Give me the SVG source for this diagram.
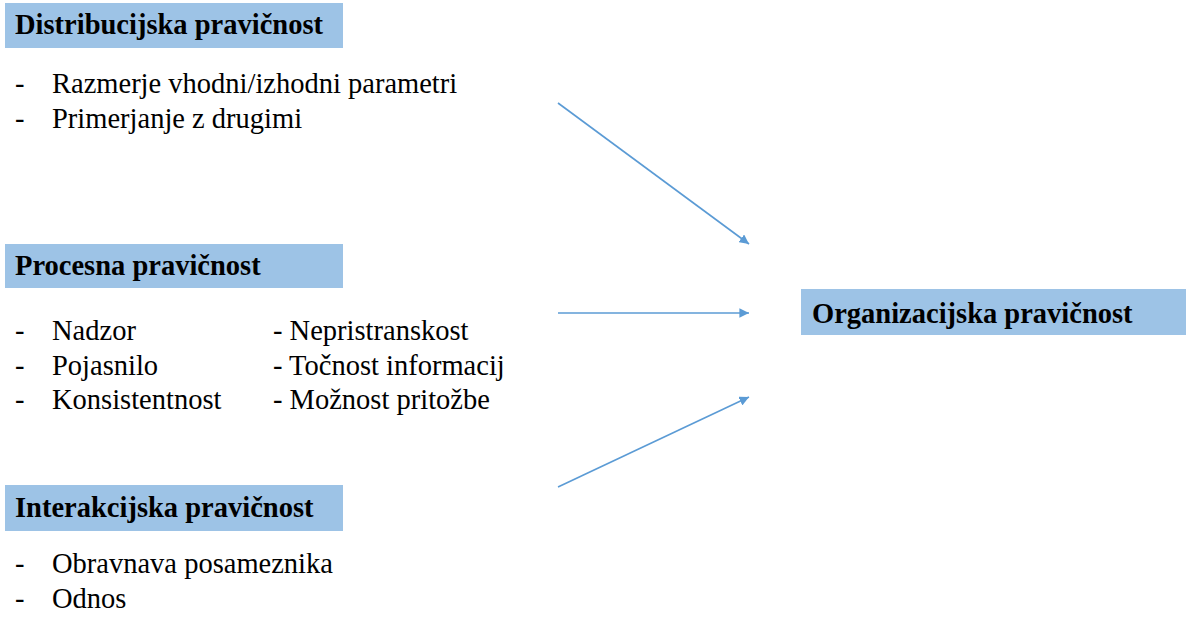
<svg xmlns="http://www.w3.org/2000/svg" width="1186" height="618" viewBox="0 0 1186 618">
<style>
.box{fill:#9dc3e6}
</style>
<defs>
<marker id="ah" viewBox="0 0 10 10" refX="10" refY="5" markerWidth="6" markerHeight="6" orient="auto" markerUnits="strokeWidth">
<path d="M0,0 L10,5 L0,10 z" fill="#5b9bd5"/>
</marker>
</defs>
<g id="distribucijska">
<text x="15" y="93" font-family="'Liberation Serif', Tinos, 'Times New Roman', serif" font-size="28.5">-</text>
<text x="52" y="93" font-family="'Liberation Serif', Tinos, 'Times New Roman', serif" font-size="28.5">Razmerje vhodni/izhodni parametri</text>
<text x="15" y="128" font-family="'Liberation Serif', Tinos, 'Times New Roman', serif" font-size="28.5">-</text>
<text x="52" y="128" font-family="'Liberation Serif', Tinos, 'Times New Roman', serif" font-size="28.5">Primerjanje z drugimi</text>
<rect class="box" x="5" y="3" width="338" height="45"/>
<text x="15" y="34" font-family="'Liberation Serif', Tinos, 'Times New Roman', serif" font-weight="bold" font-size="28.5">Distribucijska pravičnost</text>
</g>
<g id="procesna">
<text x="15" y="340" font-family="'Liberation Serif', Tinos, 'Times New Roman', serif" font-size="28.5">-</text>
<text x="52" y="340" font-family="'Liberation Serif', Tinos, 'Times New Roman', serif" font-size="28.5">Nadzor</text>
<text x="15" y="374.5" font-family="'Liberation Serif', Tinos, 'Times New Roman', serif" font-size="28.5">-</text>
<text x="52" y="374.5" font-family="'Liberation Serif', Tinos, 'Times New Roman', serif" font-size="28.5">Pojasnilo</text>
<text x="15" y="409" font-family="'Liberation Serif', Tinos, 'Times New Roman', serif" font-size="28.5">-</text>
<text x="52" y="409" font-family="'Liberation Serif', Tinos, 'Times New Roman', serif" font-size="28.5">Konsistentnost</text>
<text x="273" y="340" font-family="'Liberation Serif', Tinos, 'Times New Roman', serif" font-size="28.5">- Nepristranskost</text>
<text x="273" y="374.5" font-family="'Liberation Serif', Tinos, 'Times New Roman', serif" font-size="28.5">- Točnost informacij</text>
<text x="273" y="409" font-family="'Liberation Serif', Tinos, 'Times New Roman', serif" font-size="28.5">- Možnost pritožbe</text>
<rect class="box" x="5" y="244" width="338" height="44"/>
<text x="15" y="275" font-family="'Liberation Serif', Tinos, 'Times New Roman', serif" font-weight="bold" font-size="28.5">Procesna pravičnost</text>
</g>
<g id="interakcijska">
<text x="15" y="573" font-family="'Liberation Serif', Tinos, 'Times New Roman', serif" font-size="28.5">-</text>
<text x="52" y="573" font-family="'Liberation Serif', Tinos, 'Times New Roman', serif" font-size="28.5">Obravnava posameznika</text>
<text x="15" y="608" font-family="'Liberation Serif', Tinos, 'Times New Roman', serif" font-size="28.5">-</text>
<text x="52" y="608" font-family="'Liberation Serif', Tinos, 'Times New Roman', serif" font-size="28.5">Odnos</text>
<rect class="box" x="5" y="485" width="338" height="46"/>
<text x="15" y="517" font-family="'Liberation Serif', Tinos, 'Times New Roman', serif" font-weight="bold" font-size="28.5">Interakcijska pravičnost</text>
</g>
<g id="organizacijska">
<rect class="box" x="801" y="289" width="385" height="46"/>
<text x="812" y="323" font-family="'Liberation Serif', Tinos, 'Times New Roman', serif" font-weight="bold" font-size="28.5">Organizacijska pravičnost</text>
</g>
<g id="connectors" stroke="#5b9bd5" stroke-width="1.6" fill="none" marker-end="url(#ah)">
<line x1="558" y1="103" x2="749" y2="244"/>
<line x1="558" y1="313" x2="749" y2="313"/>
<line x1="558" y1="487" x2="749" y2="397"/>
</g>
</svg>
